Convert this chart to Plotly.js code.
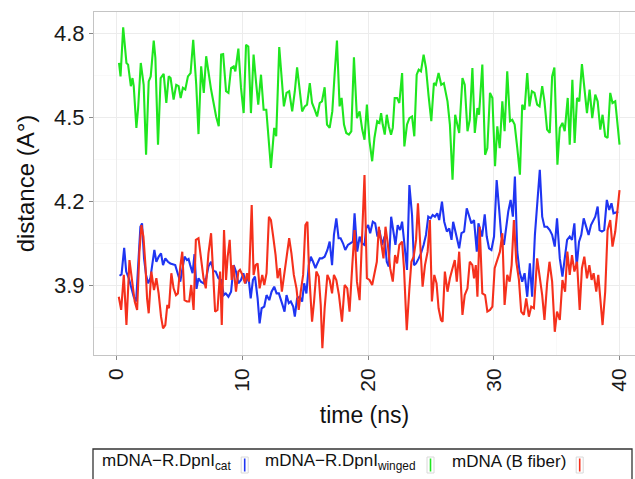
<!DOCTYPE html>
<html>
<head>
<meta charset="utf-8">
<script src="https://cdn.plot.ly/plotly-3.0.1.min.js"></script>
<style>html,body{margin:0;padding:0;background:#fff;}#chart{width:635px;height:479px;}</style>
</head>
<body>
<div id="chart"></div>
<script>
// ---- data ----
const seriesNames = ["mDNA\u2212R.DpnI<sub>cat</sub>", "mDNA\u2212R.DpnI<sub>winged</sub>", "mDNA (B fiber)"];
const seriesColors = ["#1f35f2", "#1fe61f", "#f5301c"];

const timeCat = [0.24,0.40,0.61,0.77,0.98,1.19,1.37,1.56,1.72,1.90,2.03,2.19,2.35,2.51,2.69,2.83,3.01,3.17,3.35,3.54,3.70,3.88,4.09,4.28,4.49,4.67,4.86,5.07,5.25,5.41,5.60,5.73,5.86,6.05,6.20,6.36,6.52,6.71,6.92,7.13,7.31,7.52,7.71,7.89,8.11,8.32,8.53,8.69,8.90,9.11,9.32,9.50,9.69,9.90,10.09,10.27,10.48,10.67,10.85,11.01,11.22,11.38,11.54,11.75,11.93,12.15,12.33,12.54,12.73,12.91,
13.20,13.36,13.52,13.70,13.86,14.05,14.18,14.36,14.57,14.76,14.92,15.10,15.29,15.45,15.63,15.82,15.97,16.16,16.34,16.55,16.77,16.95,17.14,17.29,17.48,17.66,17.82,18.01,18.19,18.40,18.59,18.80,18.93,19.14,19.33,19.51,19.72,19.85,20.01,20.17,20.38,20.57,20.75,20.91,21.12,21.31,21.49,21.65,21.84,22.02,22.18,22.36,22.55,22.71,22.89,23.10,23.29,23.50,23.66,23.82,24.03,24.21,24.42,24.61,24.79,24.98,25.14,25.32,25.51,25.66,25.88,26.06,26.27,26.46,26.64,26.77,26.98,
27.25,27.43,27.64,27.85,28.04,28.22,28.43,28.65,28.78,28.91,29.07,29.28,29.44,29.62,29.81,30.02,30.23,30.41,30.60,30.81,30.97,31.15,31.34,31.52,31.68,31.87,32.05,32.26,32.45,32.66,32.87,33.05,33.27,33.45,33.66,33.85,34.03,34.24,34.45,34.64,34.85,35.03,35.25,35.46,35.64,35.83,36.04,36.22,36.41,36.59,36.78,36.96,37.15,37.33,37.54,37.73,37.89,38.07,38.26,38.41,38.60,38.78,38.99,39.18,39.36,39.52,39.90];
const distCat = [3.933,3.938,4.033,3.948,3.924,3.888,3.858,3.841,3.971,4.108,4.120,3.995,3.936,3.906,3.924,3.971,4.025,3.983,4.001,4.013,3.971,3.995,3.983,3.977,3.974,3.971,3.942,3.912,3.960,4.001,3.989,3.993,3.971,3.942,4.010,3.886,3.924,3.912,3.906,3.924,3.966,3.983,3.950,3.948,3.924,3.918,3.864,3.870,3.858,3.876,3.971,3.948,3.906,3.918,3.942,3.906,3.936,3.852,3.918,3.930,3.852,3.763,3.817,3.823,3.864,3.846,3.876,3.894,3.870,3.870,
3.829,3.805,3.864,3.835,3.841,3.823,3.787,3.852,3.858,3.841,3.906,3.870,3.971,4.001,3.983,3.960,3.977,3.995,3.995,4.001,4.025,4.055,3.971,4.079,4.138,4.067,4.067,4.049,4.025,4.043,4.049,4.055,4.156,4.019,4.073,4.049,4.043,4.102,4.114,4.085,4.126,4.120,4.073,4.096,4.043,4.073,3.983,3.966,4.144,4.096,4.043,4.114,4.096,4.126,4.043,3.954,4.257,4.150,3.971,3.977,3.995,4.013,4.043,4.079,4.144,4.138,4.150,4.144,4.156,4.132,4.198,4.126,4.091,4.102,4.061,4.126,4.085,
4.031,4.085,4.091,4.174,4.150,4.120,4.132,4.019,4.120,4.102,4.073,4.152,4.073,4.031,4.025,4.073,4.275,4.180,4.073,4.043,4.102,4.162,4.204,4.144,4.287,4.019,3.948,3.912,3.942,3.858,3.977,3.858,4.079,4.198,4.311,4.144,4.108,4.108,4.096,4.079,4.037,4.138,3.995,3.930,3.995,4.061,4.073,4.061,4.120,3.966,4.055,4.079,4.138,4.114,4.079,4.114,4.126,4.144,4.180,4.096,4.091,4.096,4.204,4.168,4.192,4.156,4.162];

const timeWinged = [0.20,0.32,0.53,0.79,0.92,1.14,1.27,1.37,1.58,1.72,1.93,2.16,2.35,2.56,2.72,2.96,3.09,3.30,3.51,3.75,3.96,4.15,4.30,4.54,4.75,4.94,5.10,5.28,5.47,5.68,5.89,6.10,6.34,6.52,6.73,6.94,7.13,7.52,7.92,8.13,8.32,8.48,8.71,8.90,9.11,9.32,9.45,9.69,9.90,10.11,10.30,10.48,10.69,10.90,11.09,11.27,11.49,11.70,11.91,12.12,12.28,12.54,12.70,12.94,
13.31,13.52,13.73,13.97,14.18,14.36,14.57,14.76,14.97,15.15,15.37,15.55,15.76,15.95,16.16,16.34,16.55,16.74,16.95,17.16,17.35,17.53,17.74,17.90,18.09,18.27,18.48,18.67,18.88,19.12,19.33,19.54,19.72,19.91,20.12,20.33,20.51,20.73,20.91,21.04,21.17,21.33,21.49,21.65,21.83,21.97,22.12,22.31,22.49,22.71,22.89,23.10,23.29,23.50,23.68,23.87,24.03,24.21,24.42,24.61,24.82,25.03,25.24,25.40,25.61,25.82,26.03,26.32,26.51,26.72,26.93,
27.25,27.51,27.69,27.91,28.09,28.30,28.49,28.70,28.83,29.09,29.31,29.49,29.70,29.89,30.10,30.28,30.47,30.68,30.86,31.07,31.29,31.47,31.66,31.87,32.08,32.26,32.45,32.66,32.84,33.03,33.24,33.45,33.64,33.85,34.03,34.24,34.45,34.64,34.82,35.06,35.25,35.46,35.64,35.88,36.04,36.25,36.43,36.62,36.80,37.01,37.20,37.41,37.62,37.83,38.07,38.26,38.47,38.65,38.86,39.05,39.26,39.44,39.66,40.00];
const distWinged = [4.693,4.645,4.820,4.693,4.687,4.610,4.639,4.610,4.461,4.532,4.693,4.615,4.365,4.627,4.645,4.773,4.711,4.401,4.639,4.654,4.550,4.645,4.639,4.562,4.615,4.610,4.568,4.604,4.598,4.645,4.657,4.776,4.615,4.439,4.681,4.586,4.717,4.598,4.502,4.467,4.723,4.725,4.592,4.586,4.675,4.681,4.663,4.744,4.604,4.514,4.758,4.752,4.514,4.723,4.627,4.544,4.651,4.526,4.526,4.389,4.318,4.461,4.431,4.750,
4.538,4.586,4.592,4.520,4.592,4.677,4.592,4.520,4.538,4.544,4.621,4.550,4.526,4.502,4.550,4.556,4.606,4.473,4.461,4.520,4.657,4.773,4.538,4.568,4.473,4.443,4.437,4.449,4.713,4.496,4.520,4.455,4.419,4.544,4.413,4.342,4.425,4.485,4.479,4.514,4.473,4.437,4.508,4.467,4.437,4.461,4.568,4.568,4.550,4.657,4.395,4.473,4.496,4.502,4.431,4.651,4.669,4.663,4.723,4.675,4.574,4.485,4.621,4.615,4.657,4.615,4.621,4.556,4.473,4.276,4.508,
4.443,4.639,4.615,4.449,4.490,4.675,4.443,4.532,4.508,4.687,4.365,4.389,4.586,4.568,4.324,4.467,4.389,4.556,4.449,4.663,4.485,4.490,4.473,4.389,4.294,4.544,4.526,4.657,4.538,4.592,4.586,4.544,4.538,4.610,4.556,4.455,4.443,4.645,4.677,4.330,4.461,4.479,4.449,4.568,4.401,4.633,4.407,4.568,4.556,4.689,4.610,4.514,4.598,4.496,4.580,4.556,4.455,4.508,4.431,4.425,4.586,4.550,4.556,4.401];

const timeB = [0.18,0.37,0.58,0.79,1.03,1.24,1.45,1.64,1.82,1.98,2.14,2.30,2.43,2.56,2.77,2.98,3.17,3.35,3.54,3.70,3.88,4.04,4.17,4.36,4.54,4.73,4.88,5.07,5.23,5.41,5.60,5.78,5.94,6.13,6.31,6.52,6.71,6.92,7.10,7.31,7.52,7.71,7.84,8.03,8.24,8.37,8.55,8.71,8.84,9.00,9.16,9.29,9.50,9.69,9.82,10.01,10.22,10.38,10.53,10.75,10.90,11.06,11.22,11.38,11.59,11.75,11.93,12.12,12.28,12.46,12.65,12.81,12.99,
13.15,13.31,13.52,13.73,13.91,14.10,14.31,14.49,14.65,14.84,15.02,15.18,15.31,15.55,15.71,15.89,16.08,16.24,16.37,16.55,16.77,16.95,17.14,17.29,17.48,17.69,17.93,18.14,18.35,18.53,18.75,18.93,19.12,19.33,19.49,19.72,19.91,20.12,20.33,20.51,20.70,20.86,21.04,21.23,21.39,21.57,21.76,21.97,22.15,22.31,22.49,22.71,22.86,23.08,23.29,23.45,23.63,23.82,23.97,24.16,24.34,24.53,24.74,24.92,25.08,25.27,25.45,25.61,25.80,25.93,26.11,26.32,26.51,26.72,26.90,
27.06,27.25,27.51,27.69,27.91,28.09,28.30,28.43,28.57,28.70,28.88,29.09,29.31,29.49,29.70,29.89,30.07,30.28,30.49,30.68,30.86,31.07,31.26,31.42,31.60,31.79,32.00,32.18,32.39,32.58,32.79,32.98,33.19,33.45,33.64,33.85,34.03,34.24,34.43,34.64,34.85,35.03,35.25,35.46,35.67,35.85,36.04,36.22,36.41,36.62,36.83,37.01,37.20,37.41,37.60,37.78,37.94,38.15,38.31,38.47,38.65,38.86,39.05,39.26,39.44,39.66,40.00];
const distB = [3.858,3.811,3.936,3.757,3.989,3.924,3.841,3.811,4.019,4.114,4.073,3.971,3.852,3.799,3.948,3.882,3.924,3.870,3.787,3.745,3.757,3.829,3.817,3.942,3.888,3.864,3.870,3.966,4.019,3.846,3.841,3.841,3.900,3.811,4.061,4.067,4.007,3.924,3.888,4.013,4.085,3.930,3.805,3.811,3.948,3.757,4.096,3.918,4.001,4.061,3.918,3.971,3.876,3.948,3.954,3.936,3.906,3.942,3.912,4.186,3.936,3.971,3.977,3.888,3.936,3.900,3.942,4.144,4.132,4.073,4.007,3.924,3.960,
3.876,3.930,4.007,4.067,4.013,3.936,3.888,3.811,3.876,3.936,4.114,4.126,3.948,3.769,3.841,3.948,3.930,3.829,3.674,3.817,3.936,3.918,3.870,3.936,3.918,3.864,3.769,3.900,3.888,3.805,3.971,4.096,3.912,3.846,4.031,4.293,3.924,3.918,3.900,3.948,3.983,4.108,4.049,3.995,4.108,4.049,3.960,3.912,4.007,3.977,4.043,4.055,3.960,3.739,3.888,3.983,4.001,4.061,4.192,4.031,3.894,3.971,4.019,4.132,3.841,3.936,3.906,3.817,3.775,3.769,3.948,3.876,3.924,3.960,3.989,
3.912,4.019,3.793,3.864,3.888,3.983,3.971,3.924,3.971,3.858,4.108,3.870,3.864,3.805,3.811,3.823,3.960,3.989,4.019,4.085,3.829,3.936,3.912,3.971,4.132,3.983,3.918,3.805,3.793,3.852,3.787,3.823,3.817,3.995,3.936,3.864,3.775,3.906,3.983,3.912,3.733,3.805,3.775,3.918,3.876,4.019,3.936,4.007,3.948,3.983,3.811,3.960,4.001,3.924,3.971,3.918,3.942,3.876,3.936,3.841,3.757,3.876,4.096,4.132,4.037,4.091,4.239];

const xTickVals = [0, 10, 20, 30, 40];
const xTickText = ["0", "10", "20", "30", "40"];
const yTickVals = [3.9, 4.2, 4.5, 4.8];
const yTickText = ["3.9", "4.2", "4.5", "4.8"];

// ---- layout geometry ----
const W = 635, H = 479;
const M = {l: 94, r: 0, t: 12, b: 124};
const PW = W - M.l - M.r, PH = H - M.t - M.b;
const px2x = p => (p - M.l) / PW;
const py2y = p => (H - M.b - p) / PH;
const FONT = "Liberation Sans, Arial, Helvetica, sans-serif";

const times = [timeCat, timeWinged, timeB];
const dists = [distCat, distWinged, distB];
// draw order: green, blue, red (red on top as in reference)
const order = [1, 0, 2];
const traces = order.map(i => ({
  type: "scatter", mode: "lines",
  x: times[i], y: dists[i],
  line: {color: seriesColors[i], width: 2.1},
  name: seriesNames[i], showlegend: false, hoverinfo: "skip"
}));

// custom ggplot-style legend (text then key)
const legTextX = [100, 263, 450];
const legKeyX = [244.7, 430.5, 579.7];
const annotations = seriesNames.map((n, i) => ({
  xref: "paper", yref: "paper", x: px2x(legTextX[i]), y: py2y(462),
  xanchor: "left", yanchor: "middle", showarrow: false, text: n,
  font: {family: FONT, size: 17, color: "#111"}
}));
const shapes = [{
  type: "rect", xref: "paper", yref: "paper",
  x0: px2x(93), x1: px2x(632), y0: py2y(449), y1: py2y(495),
  line: {color: "#333", width: 1.3}, fillcolor: "rgba(0,0,0,0)"
}];
seriesColors.forEach((c, i) => {
  shapes.push({type: "rect", xref: "paper", yref: "paper",
    x0: px2x(legKeyX[i] - 3.5), x1: px2x(legKeyX[i] + 3.5), y0: py2y(473), y1: py2y(457),
    line: {color: "#d8d8d8", width: 1}, fillcolor: "#fff"});
  shapes.push({type: "line", xref: "paper", yref: "paper",
    x0: px2x(legKeyX[i]), x1: px2x(legKeyX[i]), y0: py2y(471.5), y1: py2y(458.5),
    line: {color: c, width: 1.6}});
});

const layout = {
  width: W, height: H, margin: M,
  paper_bgcolor: "#fff", plot_bgcolor: "#fff",
  font: {family: FONT, color: "#111"},
  showlegend: false,
  xaxis: {
    range: [-1.79, 41.23], tickmode: "array", tickvals: xTickVals, ticktext: xTickText,
    tickangle: -90, ticks: "outside", ticklen: 4, tickcolor: "#888", tickwidth: 1,
    tickfont: {family: FONT, size: 21, color: "#1a1a1a"},
    showgrid: true, gridcolor: "#ececec", gridwidth: 1,
    minor: {tick0: 5, dtick: 10, showgrid: true, gridcolor: "#f5f5f5", gridwidth: 0.6, ticks: ""},
    zeroline: false, showline: true, linecolor: "#c4c4c4", linewidth: 1, mirror: true,
    title: {text: "time (ns)", font: {family: FONT, size: 23, color: "#111"}, standoff: 16}
  },
  yaxis: {
    range: [3.65, 4.875], tickmode: "array", tickvals: yTickVals, ticktext: yTickText,
    ticks: "outside", ticklen: 4, tickcolor: "#888", tickwidth: 1,
    tickfont: {family: FONT, size: 22, color: "#1a1a1a"},
    showgrid: true, gridcolor: "#ececec", gridwidth: 1,
    minor: {tick0: 3.75, dtick: 0.3, showgrid: true, gridcolor: "#f5f5f5", gridwidth: 0.6, ticks: ""},
    zeroline: false, showline: true, linecolor: "#c4c4c4", linewidth: 1, mirror: false,
    title: {text: "distance (A\u00b0)", font: {family: FONT, size: 24, color: "#111"}, standoff: 12}
  },
  annotations: annotations,
  shapes: shapes
};

Plotly.newPlot("chart", traces, layout, {staticPlot: true, displayModeBar: false});
</script>
</body>
</html>
